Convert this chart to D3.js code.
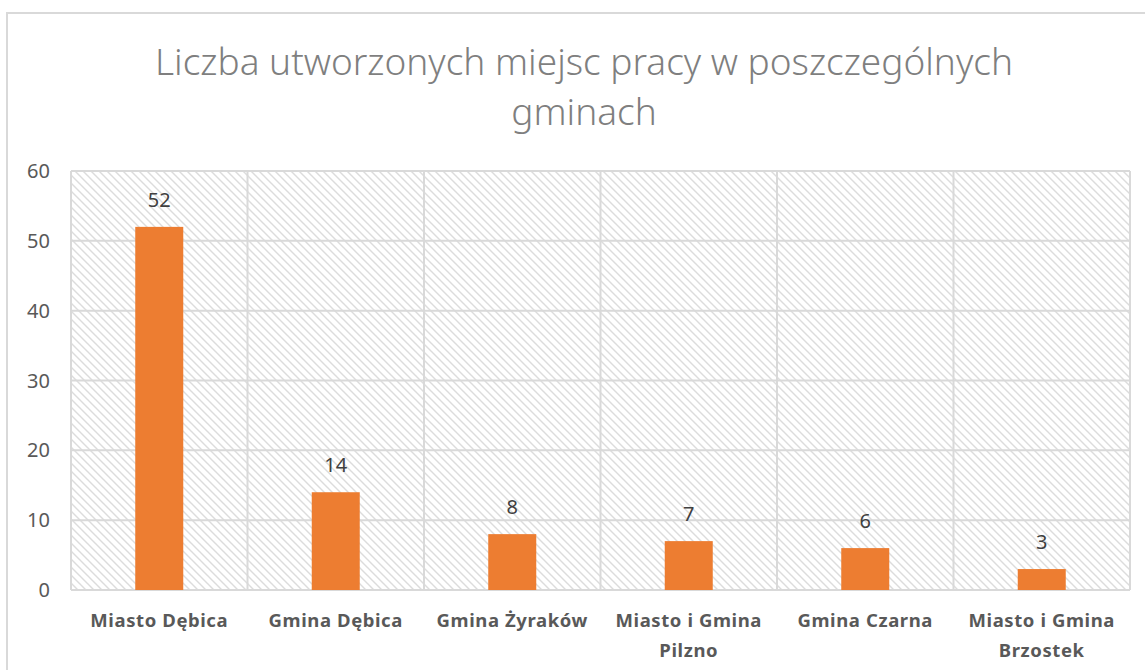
<!DOCTYPE html>
<html>
<head>
<meta charset="utf-8">
<script src="https://cdn.jsdelivr.net/npm/d3@7"></script>
<style>
  body { margin: 0; background: #fff; }
  svg { display: block; }
</style>
</head>
<body>
<div id="chart"></div>
<script>
const gminy = [
  ["Miasto Dębica"],
  ["Gmina Dębica"],
  ["Gmina Żyraków"],
  ["Miasto i Gmina", "Pilzno"],
  ["Gmina Czarna"],
  ["Miasto i Gmina", "Brzostek"],
];
const miejscaPracy = [52, 14, 8, 7, 6, 3];
const yTicks = [0, 10, 20, 30, 40, 50, 60];
const tytul = ["Liczba utworzonych miejsc pracy w poszczególnych", "gminach"];

const W = 1145, H = 670;
const plotL = 71, plotR = 1130, plotT = 171, plotB = 590;
const font = "'Noto Sans', 'Open Sans', sans-serif";

const svg = d3.select("#chart").append("svg")
  .attr("width", W)
  .attr("height", H);

// wzor kreskowania tla
const pat = svg.append("defs").append("pattern")
  .attr("id", "hatch")
  .attr("patternUnits", "userSpaceOnUse")
  .attr("width", 8)
  .attr("height", 8);
pat.append("rect").attr("width", 8).attr("height", 8).attr("fill", "#fff");
pat.append("path")
  .attr("d", "M-2,-2 L10,10 M-2,6 L2,10 M6,-2 L10,2")
  .attr("stroke", "#dcdcdc")
  .attr("stroke-width", 1.4);

// ramka wykresu
svg.append("rect")
  .attr("x", 7).attr("y", 13)
  .attr("width", W + 20).attr("height", H + 20)
  .attr("fill", "#fff")
  .attr("stroke", "#d9d9d9")
  .attr("stroke-width", 2);

const x = d3.scaleBand()
  .domain(d3.range(gminy.length))
  .range([plotL, plotR])
  .padding(0);

const y = d3.scaleLinear()
  .domain([0, 60])
  .range([plotB, plotT]);

// tlo obszaru wykresu
svg.append("rect")
  .attr("x", plotL).attr("y", plotT)
  .attr("width", plotR - plotL).attr("height", plotB - plotT)
  .attr("fill", "url(#hatch)");

// linie siatki poziome
svg.append("g")
  .selectAll("line")
  .data(yTicks)
  .join("line")
  .attr("x1", plotL).attr("x2", plotR)
  .attr("y1", (d) => y(d)).attr("y2", (d) => y(d))
  .attr("stroke", "#d9d9d9")
  .attr("stroke-width", 2);

// linie siatki pionowe
svg.append("g")
  .selectAll("line")
  .data(d3.range(gminy.length + 1))
  .join("line")
  .attr("x1", (d) => plotL + d * x.step())
  .attr("x2", (d) => plotL + d * x.step())
  .attr("y1", plotT).attr("y2", plotB)
  .attr("stroke", "#d9d9d9")
  .attr("stroke-width", 2);

// etykiety osi Y
svg.append("g")
  .selectAll("text")
  .data(yTicks)
  .join("text")
  .attr("x", 50)
  .attr("y", (d) => y(d))
  .attr("dy", "0.35em")
  .attr("text-anchor", "end")
  .attr("font-family", font)
  .attr("font-size", 20)
  .attr("fill", "#595959")
  .text((d) => d);

const barW = 48;

svg.append("g")
  .selectAll("rect")
  .data(miejscaPracy)
  .join("rect")
  .attr("x", (d, i) => x(i) + x.bandwidth() / 2 - barW / 2)
  .attr("y", (d) => y(d))
  .attr("width", barW)
  .attr("height", (d) => y(0) - y(d))
  .attr("fill", "#ed7d31");

// etykiety danych
svg.append("g")
  .selectAll("text")
  .data(miejscaPracy)
  .join("text")
  .attr("x", (d, i) => x(i) + x.bandwidth() / 2)
  .attr("y", (d) => y(d) - 27)
  .attr("dy", "0.35em")
  .attr("text-anchor", "middle")
  .attr("font-family", font)
  .attr("font-size", 20)
  .attr("fill", "#404040")
  .text((d) => d);

// etykiety kategorii
const cat = svg.append("g")
  .selectAll("text")
  .data(gminy)
  .join("text")
  .attr("x", (d, i) => x(i) + x.bandwidth() / 2)
  .attr("y", 627)
  .attr("text-anchor", "middle")
  .attr("font-family", font)
  .attr("font-size", 18.5)
  .attr("letter-spacing", 0.6)
  .attr("font-weight", "bold")
  .attr("fill", "#595959");
cat.selectAll("tspan")
  .data((d) => d)
  .join("tspan")
  .attr("x", function () { return d3.select(this.parentNode).attr("x"); })
  .attr("dy", (d, i) => (i === 0 ? 0 : 30))
  .text((d) => d);

// tytul
svg.append("g")
  .selectAll("text")
  .data(tytul)
  .join("text")
  .attr("x", 584)
  .attr("y", (d, i) => 75 + i * 50)
  .attr("text-anchor", "middle")
  .attr("font-family", font)
  .attr("font-weight", 300)
  .attr("font-size", 37)
  .attr("fill", "#7f7f7f")
  .text((d) => d);
</script>
</body>
</html>
